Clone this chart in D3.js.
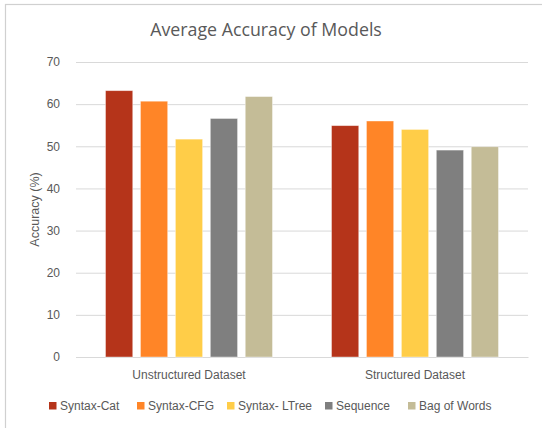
<!DOCTYPE html>
<html>
<head>
<meta charset="utf-8">
<script src="https://cdn.jsdelivr.net/npm/d3@7"></script>
<style>
  body { margin: 0; background: #fff; }
  text { font-family: "Liberation Sans", Arial, sans-serif; fill: #595959; }
  .title { font-family: "Open Sans", sans-serif; }
</style>
</head>
<body>
<div id="figure-container"></div>
<script>
const categories = ['Unstructured Dataset', 'Structured Dataset'];
const seriesNames = ['Syntax-Cat', 'Syntax-CFG', 'Syntax- LTree', 'Sequence', 'Bag of Words'];
const syntaxCat = [63.2, 54.9];
const syntaxCfg = [60.7, 56.0];
const syntaxLTree = [51.7, 54.0];
const sequence = [56.6, 49.1];
const bagOfWords = [61.8, 49.9];
const yTicks = [0, 10, 20, 30, 40, 50, 60, 70];
const colors = ['#B5341A', '#FF8527', '#FFCD48', '#7F7F7F', '#C4BC97'];

const seriesValues = [syntaxCat, syntaxCfg, syntaxLTree, sequence, bagOfWords];

var fullWidth = 542, fullHeight = 428;
var margin = {top: 62, right: 14, bottom: 71, left: 76};
var width = fullWidth - margin.left - margin.right;
var height = fullHeight - margin.top - margin.bottom;

var svg = d3.select('#figure-container')
  .append('svg')
  .attr('width', fullWidth)
  .attr('height', fullHeight);

// chart frame (only the top and left edges are in view)
svg.append('rect')
  .attr('x', 5.5).attr('y', 4.5)
  .attr('width', 600).attr('height', 600)
  .attr('fill', 'none')
  .attr('stroke', '#d0d0d0')
  .attr('stroke-width', 1.2);

svg.append('text')
  .attr('class', 'title')
  .attr('x', 266).attr('y', 36)
  .attr('text-anchor', 'middle')
  .style('font-size', '17.8px')
  .text('Average Accuracy of Models');

var g = svg.append('g')
  .attr('transform', `translate(${margin.left},${margin.top})`);

var x0 = d3.scaleBand().domain(categories).range([0, width]);
var x1 = d3.scaleBand().domain(seriesNames)
  .range([0, 167]).paddingInner(0.22);
var yScale = d3.scaleLinear().domain([0, 70]).range([height, 0]);

// gridlines
var yGrid = d3.axisLeft(yScale).tickValues(yTicks).tickSize(-width).tickFormat('');
g.append('g').attr('class', 'grid y').call(yGrid)
  .call(s => s.select('.domain').remove())
  .call(s => s.selectAll('line').attr('stroke', '#d9d9d9').attr('stroke-width', 1));

var yAxis = d3.axisLeft(yScale).tickValues(yTicks).tickSize(0).tickPadding(16);
g.append('g').attr('class', 'axis y').call(yAxis)
  .call(s => s.select('.domain').remove())
  .call(s => s.selectAll('text').style('font-size', '12px').attr('fill', '#595959'));

var xAxis = d3.axisBottom(x0).tickSize(0).tickPadding(13);
g.append('g').attr('class', 'axis x')
  .attr('transform', `translate(0,${height})`)
  .call(xAxis)
  .call(s => s.select('.domain').attr('stroke', '#d9d9d9'))
  .call(s => s.selectAll('text').style('font-size', '12px').attr('fill', '#595959'));

svg.append('text')
  .attr('transform', `translate(39,${margin.top + height / 2}) rotate(-90)`)
  .attr('text-anchor', 'middle')
  .style('font-size', '12.5px')
  .text('Accuracy (%)');

// bars
var groups = g.selectAll('g.cat')
  .data(categories)
  .enter()
  .append('g')
  .attr('class', 'cat')
  .attr('transform', d => `translate(${x0(d) + (x0.bandwidth() - 167) / 2},0)`);

groups.selectAll('rect')
  .data((d, ci) => seriesNames.map((s, si) => ({s: s, si: si, v: seriesValues[si][ci]})))
  .enter()
  .append('rect')
  .attr('x', d => x1(d.s))
  .attr('y', d => yScale(d.v))
  .attr('width', x1.bandwidth())
  .attr('height', d => height - yScale(d.v))
  .attr('fill', d => colors[d.si])
  .attr('stroke', '#fff')
  .attr('stroke-opacity', 0.5)
  .attr('stroke-width', 0.8);

// legend
var legendX = [49, 137, 227, 325, 408];
var legend = svg.append('g')
  .selectAll('g')
  .data(seriesNames)
  .enter()
  .append('g')
  .attr('transform', (d, i) => `translate(${legendX[i]},402)`);
legend.append('rect')
  .attr('width', 7.5).attr('height', 7.5)
  .attr('fill', (d, i) => colors[i]);
legend.append('text')
  .attr('x', 11).attr('y', 8)
  .style('font-size', '12px')
  .text(d => d);
</script>
</body>
</html>
